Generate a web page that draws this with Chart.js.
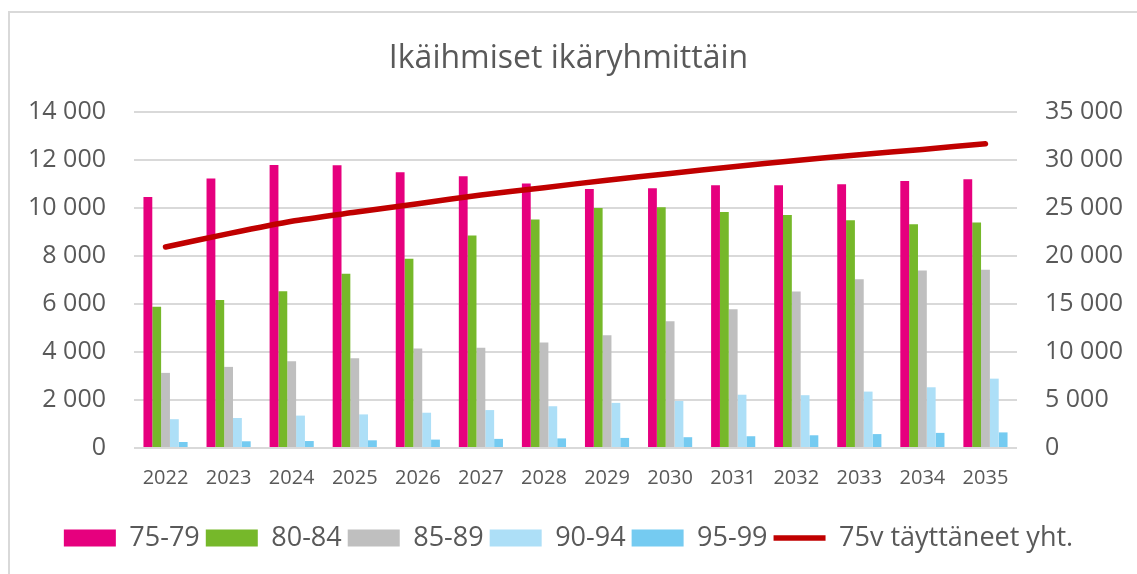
<!DOCTYPE html>
<html>
<head>
<meta charset="utf-8">
<script src="https://cdn.jsdelivr.net/npm/chart.js@4"></script>
<style>
  body { margin: 0; background: #fff; }
  #frame { position: absolute; left: 8px; top: 11px; width: 1200px; height: 600px;
           border-left: 2px solid #d9d9d9; border-top: 2px solid #d9d9d9; }
  #chart { position: absolute; left: 0; top: 0; }
</style>
</head>
<body>
<div id="frame"></div>
<canvas id="chart" width="1137" height="574"></canvas>
<script>
// Vuodet
const years = ['2022', '2023', '2024', '2025', '2026', '2027', '2028', '2029', '2030', '2031', '2032', '2033', '2034', '2035'];

// Ikäryhmät (henkilöä)
const age7579 = [10460, 11230, 11790, 11780, 11490, 11320, 11020, 10790, 10820, 10950, 10950, 10990, 11130, 11200];
const age8084 = [5890, 6170, 6530, 7260, 7890, 8850, 9520, 10000, 10030, 9830, 9710, 9490, 9320, 9400];
const age8589 = [3130, 3380, 3610, 3740, 4150, 4180, 4400, 4700, 5280, 5780, 6520, 7030, 7400, 7430];
const age9094 = [1200, 1250, 1350, 1400, 1470, 1580, 1740, 1880, 1960, 2220, 2200, 2350, 2530, 2890];
const age9599 = [250, 280, 290, 320, 350, 380, 400, 420, 450, 490, 530, 580, 630, 650];

// 75v täyttäneet yhteensä (oikea akseli)
const total75 = [20940, 22330, 23620, 24550, 25450, 26350, 27120, 27900, 28600, 29300, 29950, 30550, 31100, 31700];

const textColor = '#595959';
const gridColor = '#d9d9d9';

// Tuhaterotin välilyönnillä
function fmt(v) {
    return String(v).replace(/\B(?=(\d{3})+(?!\d))/g, ' ');
}

function barSet(label, data, color) {
    return {
        type: 'bar',
        label: label,
        data: data,
        backgroundColor: color,
        borderWidth: 0,
        pointStyle: 'rect',
        yAxisID: 'y',
        order: 1,
        categoryPercentage: 0.7,
        barPercentage: 1.0
    };
}

const datasets = [
    barSet('75-79', age7579, '#e6007e'),
    barSet('80-84', age8084, '#76b82a'),
    barSet('85-89', age8589, '#bfbfbf'),
    barSet('90-94', age9094, '#addff7'),
    barSet('95-99', age9599, '#75cbf1'),
    {
        type: 'line',
        label: '75v täyttäneet yht.',
        data: total75,
        borderColor: '#c00000',
        backgroundColor: '#c00000',
        borderWidth: 5.5,
        borderCapStyle: 'round',
        pointRadius: 0,
        pointStyle: 'line',
        tension: 0.2,
        yAxisID: 'y1',
        order: 0
    }
];

new Chart(document.getElementById('chart'), {
    data: { labels: years, datasets: datasets },
    options: {
        responsive: false,
        animation: false,
        layout: { padding: { left: 0, right: 0, top: 0, bottom: 12.5 } },
        plugins: {
            title: {
                display: true,
                text: 'Ikäihmiset ikäryhmittäin',
                color: textColor,
                font: { family: 'Open Sans', size: 32, weight: 'normal' },
                padding: { top: 40, bottom: 33.6 }
            },
            legend: {
                position: 'bottom',
                labels: {
                    color: textColor,
                    font: { family: 'Open Sans', size: 27 },
                    usePointStyle: true,
                    pointStyleWidth: 52,
                    boxHeight: 17,
                    padding: 6,
                    sort: (a, b) => a.datasetIndex - b.datasetIndex
                }
            },
            tooltip: { enabled: false }
        },
        scales: {
            x: {
                grid: { display: false },
                border: { display: false },
                ticks: {
                    color: textColor,
                    font: { family: 'Open Sans', size: 20 },
                    padding: 10,
                    maxRotation: 0
                },
                afterFit: s => { s.height = 70.5; }
            },
            y: {
                position: 'left',
                min: 0,
                max: 14000,
                grid: { color: gridColor, lineWidth: 2, drawTicks: false },
                border: { display: false },
                ticks: {
                    stepSize: 2000,
                    color: textColor,
                    font: { family: 'Open Sans', size: 25 },
                    padding: 28,
                    callback: v => fmt(v)
                },
                afterFit: s => { s.width = 134; }
            },
            y1: {
                position: 'right',
                min: 0,
                max: 35000,
                grid: { drawOnChartArea: false, drawTicks: false },
                border: { display: false },
                ticks: {
                    stepSize: 5000,
                    color: textColor,
                    font: { family: 'Open Sans', size: 25 },
                    padding: 28,
                    callback: v => fmt(v)
                },
                afterFit: s => { s.width = 120; }
            }
        }
    }
});
</script>
</body>
</html>
